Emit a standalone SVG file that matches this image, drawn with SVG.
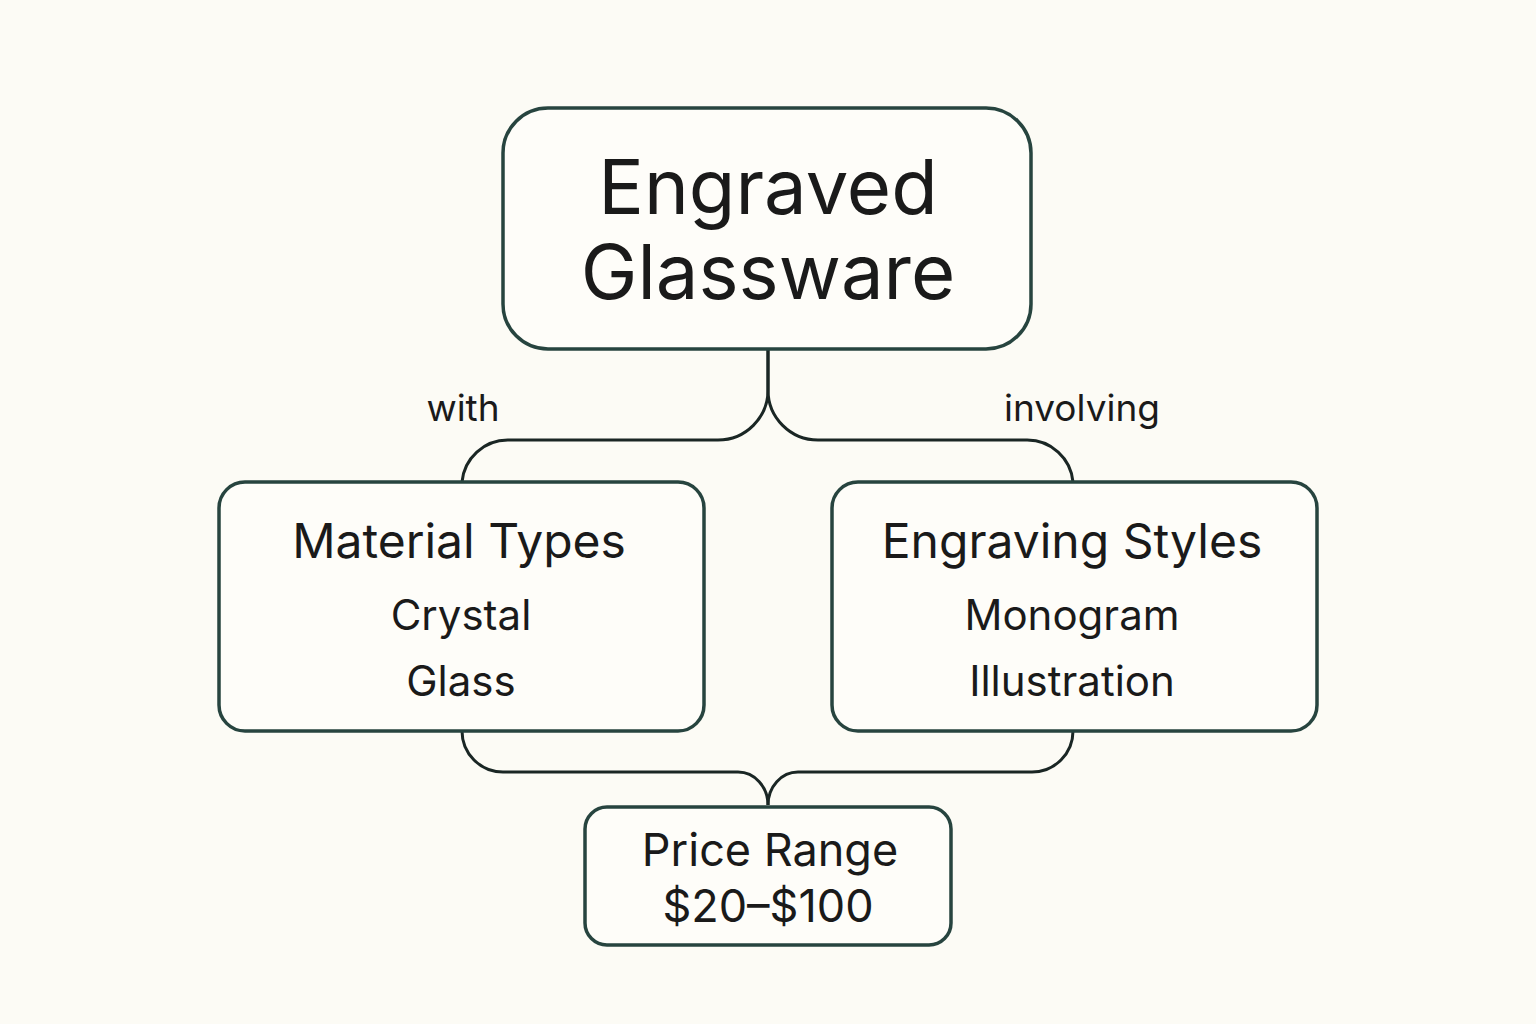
<svg xmlns="http://www.w3.org/2000/svg" width="1536" height="1024" viewBox="0 0 1536 1024">
<style>
.box{fill:#fefdf9;stroke:#27443f;stroke-width:3.5}
.conn{fill:none;stroke:#1a2624;stroke-width:3}
text{font-family:Inter,"Liberation Sans",sans-serif;fill:#1a1a1a;text-anchor:middle}
.t1{font-size:76px}
.t2{font-size:48px}
.t3{font-size:42px}
.t4{font-size:45px}
.lbl{font-size:37px}
</style>
<rect width="1536" height="1024" fill="#fcfbf5"/>
<g id="connectors">
<path class="conn" d="M768,349 V390 A50,50 0 0 1 718,440 H508 A46,46 0 0 0 462,482"/>
<path class="conn" d="M768,349 V390 A50,50 0 0 0 818,440 H1027 A46,46 0 0 1 1073,482"/>
<path class="conn" d="M462,731 A41,41 0 0 0 503,772 H738 A30,33 0 0 1 768,805"/>
<path class="conn" d="M1073,731 A41,41 0 0 1 1032,772 H798 A30,33 0 0 0 768,805"/>
<text class="lbl" x="463" y="421">with</text>
<text class="lbl" x="1082" y="421">involving</text>
</g>
<g id="node-engraved-glassware">
<rect class="box" x="503" y="108" width="528" height="241" rx="45"/>
<text class="t1" x="768" y="214">Engraved</text>
<text class="t1" x="768" y="299">Glassware</text>
</g>
<g id="node-material-types">
<rect class="box" x="219" y="482" width="485" height="249" rx="26"/>
<text class="t2" x="459" y="558">Material Types</text>
<text class="t3" x="461" y="630">Crystal</text>
<text class="t3" x="461" y="696">Glass</text>
</g>
<g id="node-engraving-styles">
<rect class="box" x="832" y="482" width="485" height="249" rx="26"/>
<text class="t2" x="1072" y="558">Engraving Styles</text>
<text class="t3" x="1072" y="630">Monogram</text>
<text class="t3" x="1072" y="696">Illustration</text>
</g>
<g id="node-price-range">
<rect class="box" x="585" y="807" width="366" height="138" rx="22"/>
<text class="t4" x="770" y="866">Price Range</text>
<text class="t4" x="768" y="922">$20–$100</text>
</g>
</svg>
